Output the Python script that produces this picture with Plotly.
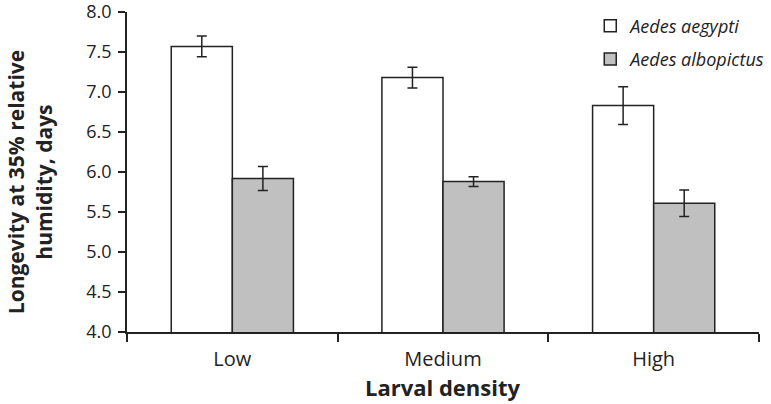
import plotly.graph_objects as go

densities = ["Low", "Medium", "High"]
aegypti = [7.57, 7.18, 6.83]
aegypti_err = [0.13, 0.13, 0.235]
albopictus = [5.92, 5.88, 5.61]
albopictus_err = [0.15, 0.06, 0.165]
y_ticks = [4.0, 4.5, 5.0, 5.5, 6.0, 6.5, 7.0, 7.5, 8.0]

font_family = "Open Sans, Noto Sans, sans-serif"
ink = "#222222"
err_style = dict(type="data", color=ink, thickness=1.5, width=5)

fig = go.Figure()
fig.add_trace(go.Bar(
    x=densities, y=aegypti, name="<i>Aedes aegypti</i>", legendgroup="a",
    marker=dict(color="white", line=dict(color=ink, width=1.5)),
    error_y=dict(array=aegypti_err, **err_style),
))
fig.add_trace(go.Bar(
    x=densities, y=albopictus, name="<i>Aedes albopictus</i>", legendgroup="b",
    marker=dict(color="#c0c0c0", line=dict(color=ink, width=1.5)),
    error_y=dict(array=albopictus_err, **err_style),
))

fig.update_layout(
    width=771, height=404,
    margin=dict(l=127, r=12, t=12, b=72, autoexpand=False),
    paper_bgcolor="white", plot_bgcolor="white",
    font=dict(family=font_family, color=ink, size=19),
    barmode="group", bargap=0.42, bargroupgap=0,
    showlegend=True,
    legend=dict(x=0.733, y=1.014, xanchor="left", yanchor="top",
                font=dict(size=18), bgcolor="rgba(0,0,0,0)",
                tracegroupgap=7, itemwidth=30),
    annotations=[
        # axis titles as annotations so they sit where the original has them
        dict(text="<b>Longevity at 35% relative<br>humidity, days</b>", textangle=-90,
             xref="paper", yref="paper", x=-0.153, y=0.469,
             xanchor="center", yanchor="middle", showarrow=False, font=dict(size=21)),
        dict(text="<b>Larval density</b>",
             xref="paper", yref="paper", x=0.5, y=-0.171,
             xanchor="center", yanchor="middle", showarrow=False, font=dict(size=22)),
    ],
)
fig.update_xaxes(
    showline=True, linecolor=ink, linewidth=1.5,
    ticks="outside", tickson="boundaries", ticklen=8, tickcolor=ink, tickwidth=1.5,
    tickfont=dict(size=20), ticklabelstandoff=8,
)
fig.update_yaxes(
    range=[4.0, 8.0], tickvals=y_ticks, tickformat=".1f", ticklabeloverflow="allow",
    showline=True, linecolor=ink, linewidth=1.5, showgrid=False, zeroline=False,
    ticks="outside", ticklen=7, tickcolor=ink, tickwidth=1.5, ticklabelstandoff=3,
    tickfont=dict(size=18),
)

fig.write_html("out.html", config={"displayModeBar": False},
               post_script="document.body.style.margin='0';")
